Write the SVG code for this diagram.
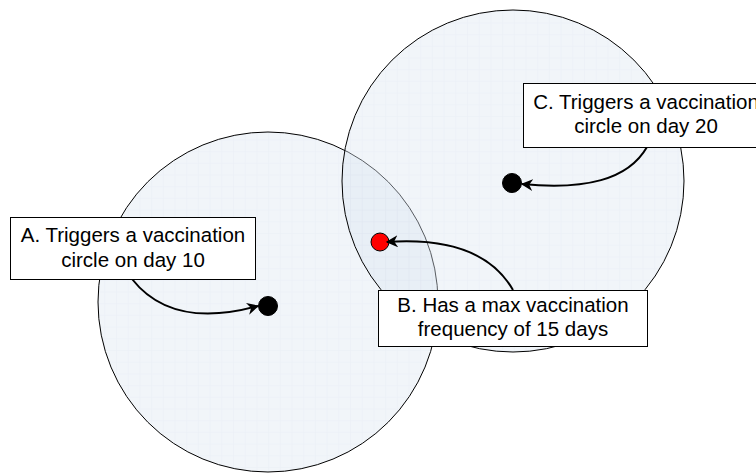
<svg xmlns="http://www.w3.org/2000/svg" width="756" height="473" viewBox="0 0 756 473">
<style>
.zone{stroke:#000;stroke-width:1}
.dot{stroke:#000;stroke-width:1}
.box{fill:#fff;stroke:#000;stroke-width:1}
.lbl{font-family:"Liberation Sans",Arial,sans-serif;font-size:20.5px;fill:#000;text-anchor:middle}
.conn{fill:none;stroke:#000;stroke-width:2;marker-end:url(#arr)}
</style>
<defs>
<pattern id="grid" width="11.7" height="11.7" patternUnits="userSpaceOnUse">
<rect width="11.7" height="11.7" fill="#dbe5f1"/>
<path d="M11.7 0V11.7H0" fill="none" stroke="#cbd7e7" stroke-width="1"/>
</pattern>
<marker id="arr" viewBox="0 0 10 10" refX="9" refY="5" markerWidth="6" markerHeight="6" orient="auto" markerUnits="strokeWidth">
<path d="M0 0L10 5L0 10L3 5z" fill="#000"/>
</marker>
</defs>
<rect width="756" height="473" fill="#fff"/>
<g id="zone-a"><circle class="zone" cx="268" cy="302" r="170" fill="url(#grid)" fill-opacity="0.4"/></g>
<g id="zone-c"><circle cx="513" cy="181" r="171" fill="url(#grid)" fill-opacity="0.4"/><circle class="zone" cx="513" cy="181" r="171" fill="none"/></g>
<g id="dot-a"><circle class="dot" cx="268" cy="306" r="9.5" fill="#000"/></g>
<g id="dot-b"><circle class="dot" cx="380" cy="242" r="9" fill="#f00"/></g>
<g id="dot-c"><circle class="dot" cx="512" cy="183" r="9.5" fill="#000"/></g>
<g id="connectors">
<path class="conn" d="M132 279C158 312 200 322 258 306"/>
<path class="conn" d="M513 290C490 250 445 238 387 242"/>
<path class="conn" d="M647 147C628 180 585 190 522 184"/>
</g>
<g id="box-a"><rect class="box" x="10.5" y="217.5" width="245" height="62"/>
<text class="lbl" x="133" y="242">A. Triggers a vaccination</text>
<text class="lbl" x="133" y="267">circle on day 10</text></g>
<g id="box-b"><rect class="box" x="378.5" y="290.5" width="269" height="56"/>
<text class="lbl" x="513" y="312">B. Has a max vaccination</text>
<text class="lbl" x="513" y="336">frequency of 15 days</text></g>
<g id="box-c"><rect class="box" x="523.5" y="83.5" width="245" height="64"/>
<text class="lbl" x="646" y="109">C. Triggers a vaccination</text>
<text class="lbl" x="646" y="133">circle on day 20</text></g>
</svg>
